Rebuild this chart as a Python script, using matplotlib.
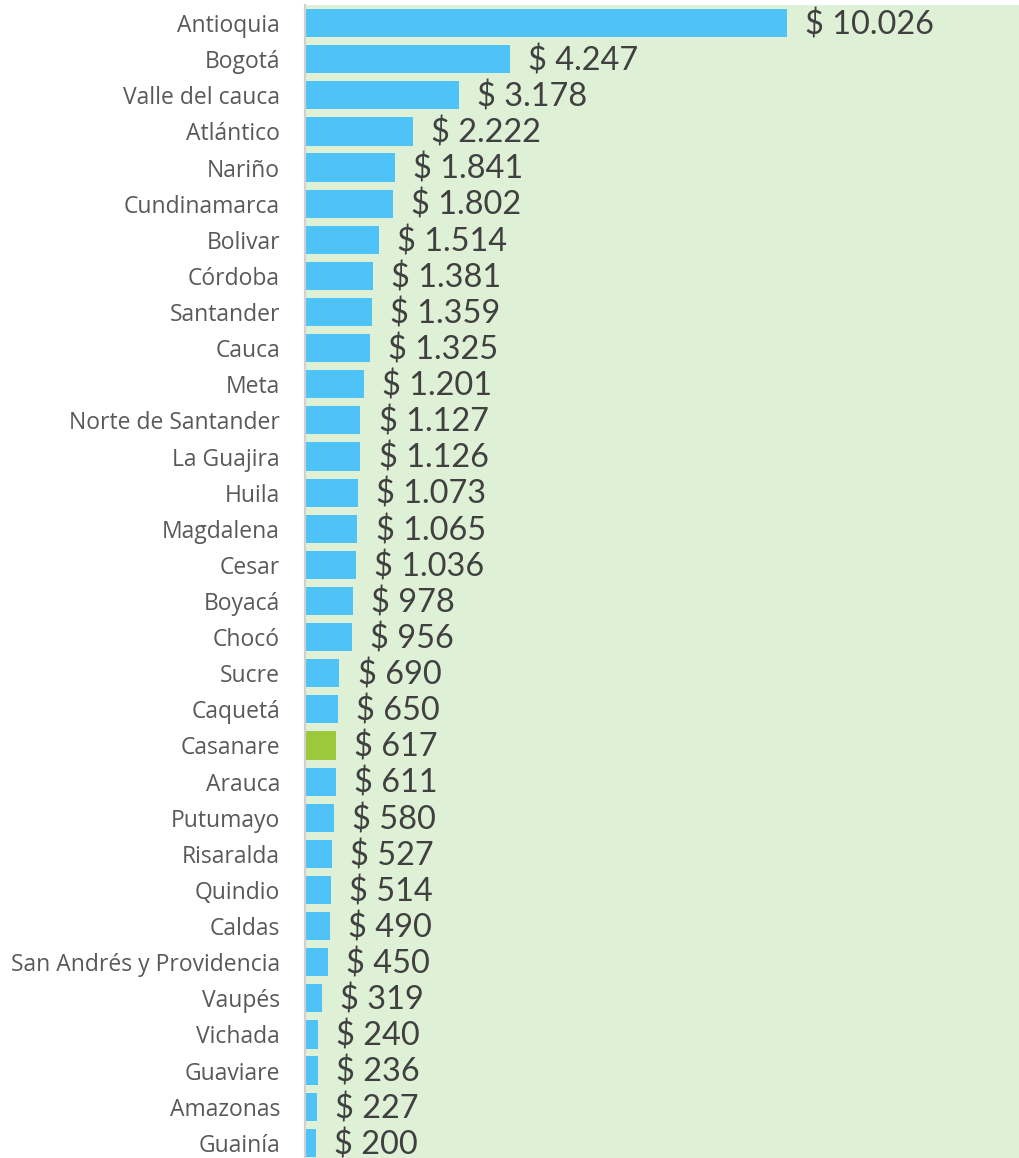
import matplotlib.pyplot as plt

departamentos = [
    "Antioquia", "Bogotá", "Valle del cauca", "Atlántico", "Nariño",
    "Cundinamarca", "Bolivar", "Córdoba", "Santander", "Cauca", "Meta",
    "Norte de Santander", "La Guajira", "Huila", "Magdalena", "Cesar",
    "Boyacá", "Chocó", "Sucre", "Caquetá", "Casanare", "Arauca", "Putumayo",
    "Risaralda", "Quindio", "Caldas", "San Andrés y Providencia", "Vaupés",
    "Vichada", "Guaviare", "Amazonas", "Guainía",
]
valores = [
    10026, 4247, 3178, 2222, 1841, 1802, 1514, 1381, 1359, 1325, 1201,
    1127, 1126, 1073, 1065, 1036, 978, 956, 690, 650, 617, 611, 580,
    527, 514, 490, 450, 319, 240, 236, 227, 200,
]
destacado = "Casanare"

AZUL = "#4FC3F7"
VERDE = "#9ACA3C"
FONDO = "#DEF0D5"
TEXTO = "#404040"
ETIQ = "#595959"

plt.rcParams["font.family"] = ["Lato", "DejaVu Sans"]

fig = plt.figure(figsize=(10.2, 11.58), dpi=100)
ax = fig.add_axes([0.299, 0.0, 0.701, 1 - 5 / 1158])
ax.set_facecolor(FONDO)

y = list(range(len(departamentos)))
colores = [VERDE if d == destacado else AZUL for d in departamentos]
ax.barh(y, valores, height=0.78, color=colores, left=0)

for yi, v in zip(y, valores):
    txt = f"$ {v:,}".replace(",", ".")
    ax.text(v + 380, yi + 0.05, txt, va="center", ha="left", fontsize=23.4,
            color=TEXTO)

ax.set_xlim(-30, 14900)
ax.set_ylim(31.42, -0.5)
ax.set_yticks(y)
ax.set_yticklabels(departamentos, fontsize=16.5, color=ETIQ,
                   family=["Open Sans", "DejaVu Sans"])
ax.tick_params(axis="y", length=0, pad=18)
ax.set_xticks([])
for s in ("top", "right", "bottom"):
    ax.spines[s].set_visible(False)
ax.spines["left"].set_color("#D0D0D0")
ax.spines["left"].set_linewidth(1.5)

fig.savefig("out.png", dpi=100)
